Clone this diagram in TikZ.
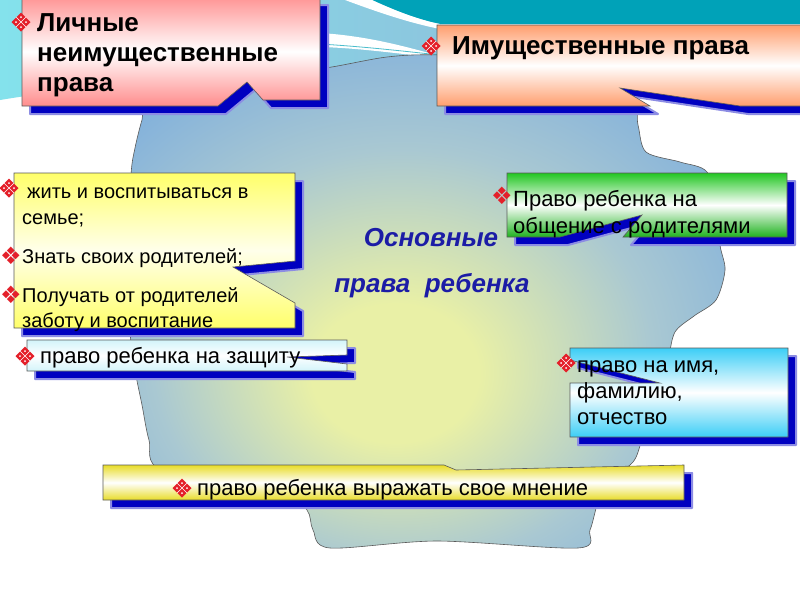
\documentclass[tikz,border=0pt]{standalone}
\usepackage{fontspec}
\setmainfont{Liberation Sans}
\newfontfamily\symfont{DejaVu Sans}
\definecolor{blobA}{HTML}{E9F0A6}
\definecolor{blobM}{HTML}{A9C8D2}
\definecolor{blobB}{HTML}{70A6E0}
\definecolor{cyanL}{HTML}{84E2EC}
\definecolor{cyanR}{HTML}{8CC6DE}
\definecolor{tealT}{HTML}{00A2B8}
\definecolor{shadowc}{HTML}{0000C0}
\definecolor{edgec}{HTML}{5A5A5A}
\definecolor{ornred}{HTML}{E4202A}
\definecolor{pinkA}{HTML}{FF9494}
\definecolor{orgA}{HTML}{FF9E6E}
\definecolor{yelA}{HTML}{FFFF6A}
\definecolor{grnA}{HTML}{22C622}
\definecolor{cyaA}{HTML}{3CCEF6}
\definecolor{lcyA}{HTML}{D2F4FA}
\definecolor{wyeA}{HTML}{E8DC28}
\definecolor{titleblue}{HTML}{1C1CA6}
\pgfdeclareradialshading{blobshade}{\pgfpoint{-3bp}{-8bp}}{color(0bp)=(blobA); color(7bp)=(blobA); color(21bp)=(blobM); color(38bp)=(blobB); color(70bp)=(blobB)}
\tikzset{
  shadowbox/.style={fill=shadowc, draw=shadowc!45, line width=2pt, line join=round},
  boxedge/.style={draw=edgec, line width=0.6pt},
  hdr/.style={font=\bfseries\fontsize{26}{30}\selectfont, anchor=base west, inner sep=0pt, text=black},
  txt/.style={font=\fontsize{20}{24}\selectfont, anchor=base west, inner sep=0pt, text=black},
  txtb/.style={font=\fontsize{22}{26}\selectfont, anchor=base west, inner sep=0pt, text=black},
  ttl/.style={font=\bfseries\itshape\fontsize{26}{30}\selectfont, anchor=base, inner sep=0pt, text=titleblue},
  qbul/.style={font=\symfont\fontsize{24}{24}\selectfont, text=ornred, inner sep=0pt},
  orn/.pic={
    \fill[ornred] (0,-9.5) -- (9.5,0) -- (0,9.5) -- (-9.5,0) -- cycle;
    \draw[white, line width=0.6pt] (-4.75,-4.75) -- (4.75,4.75) (-4.75,4.75) -- (4.75,-4.75);
    \fill[white] (0,-5) circle (1) (0,5) circle (1) (-5,0) circle (1) (5,0) circle (1);
  }
}
\def\pLich{(22,-3) -- (320,-3) -- (320,100) -- (263,100) -- (247,82) -- (218,106) -- (22,106) -- cycle}
\def\pImu{(437,25) -- (812,25) -- (812,106) -- (740,106) -- (620,88) -- (650,106) -- (437,106) -- cycle}
\def\pYel{(14,173) -- (295,173) -- (295,261) -- (233,267) -- (295,303) -- (295,328) -- (14,328) -- cycle}
\def\pPro{(27,340) -- (347,340) -- (347,355) -- (287,357) -- (347,364) -- (347,371) -- (27,371) -- cycle}
\def\pGrn{(507,173) -- (787,173) -- (787,237) -- (623,237) -- (642,215) -- (560,237) -- (507,237) -- cycle}
\def\pNam{(570,348) -- (788,348) -- (788,437) -- (570,437) -- (570,383) -- (660,383) -- (570,360) -- cycle}
\def\pWid{(103,465) -- (444,465) -- (456,470) -- (684,465) -- (684,500) -- (103,500) -- cycle}
\begin{document}
\begin{tikzpicture}[x=1pt,y=-1pt]
\useasboundingbox (0,0) rectangle (800,600);
% background
\fill[white] (0,0) rectangle (800,600);
\shade[left color=cyanL, right color=cyanR] (0,0) -- (440,0) -- (440,75) -- (300,75) .. controls (150,80) and (60,90) .. (0,100) -- cycle;
\fill[tealT] (372,0) .. controls (398,12) and (420,20) .. (440,24) -- (800,24) -- (800,0) -- cycle;
\fill[white] (345,0) .. controls (380,13) and (410,23) .. (440,29) -- (440,24) .. controls (420,20) and (398,12) .. (372,0) -- cycle;
\fill[white] (0,118) .. controls (120,70) and (240,36) .. (320,33) .. controls (370,36) and (410,48) .. (440,56) -- (440,58) .. controls (400,54) and (360,48) .. (320,47) .. controls (220,60) and (100,100) .. (0,132) -- cycle;
\draw[tealT!70, line width=0.8pt] (320,44) .. controls (370,47) and (410,52) .. (440,55);
% blob
\path[shading=blobshade, draw=edgec, line width=0.6pt]
  plot[smooth cycle, tension=0.5] coordinates {
  (150,100) (220,76) (280,70) (325,68) (387,57) (440,55) (560,62) (630,92)
  (638,125) (646,152) (680,162) (707,172) (718,210) (720,245) (725,270)
  (716,300) (694,316) (675,332) (668,360) (655,410) (642,440) (633,462)
  (605,485) (597,505) (590,530) (578,548) (437,541) (330,548) (313,530)
  (307,510) (280,490) (162,470) (149,440) (142,405) (135,370) (130,330)
  (129,250) (131,175) (135,148) (142,120)};
% centre title
\node[ttl] (osn) at (431,246) {Основные};
\node[ttl] (prr) at (432,292) {права\ \ ребенка};
% Личные неимущественные права
\fill[shadowbox, shift={(8,8)}] \pLich;
\shade[top color=pinkA, bottom color=pinkA!95!red, middle color=white] \pLich;
\draw[boxedge] \pLich;
\pic at (21,22) {orn};
\node[hdr] (lichA) at (37,31) {Личные};
\node[hdr] (lichB) at (37,61) {неимущественные};
\node[hdr] (lichC) at (37,91) {права};
% Имущественные права
\fill[shadowbox, shift={(8,8)}] \pImu;
\shade[top color=orgA, bottom color=orgA, middle color=white] \pImu;
\draw[boxedge] \pImu;
\pic at (431,46) {orn};
\node[hdr] (imu) at (452,54) {Имущественные права};
% yellow list
\fill[shadowbox, shift={(8,8)}] \pYel;
\shade[top color=yelA, bottom color=yelA, middle color=white!92!yellow] \pYel;
\draw[boxedge] \pYel;
\pic at (9,188) {orn};
\node[txt] (y1) at (27,198) {жить и воспитываться в};
\node[txt] (y2) at (22,224) {семье;};
\node[qbul] (q1) at (11,256) {❖};
\node[txt] (y3) at (22,263) {Знать своих родителей;};
\node[qbul] (q2) at (11,295) {❖};
\node[txt] (y4) at (22,302) {Получать от родителей};
\node[txt] (y5) at (22,327) {заботу и воспитание};
% protection
\fill[shadowbox, shift={(8,8)}] \pPro;
\shade[top color=lcyA, bottom color=lcyA, middle color=white] \pPro;
\draw[boxedge] \pPro;
\pic at (25,356) {orn};
\node[txtb] (pro) at (40,363) {право ребенка на защиту};
% green
\fill[shadowbox, shift={(8,8)}] \pGrn;
\shade[top color=grnA, bottom color=grnA!90!black, middle color=white] \pGrn;
\draw[boxedge] \pGrn;
\node[qbul] (q3) at (502,196) {❖};
\node[txtb] (g1) at (513,206) {Право ребенка на};
\node[txtb] (g2) at (513,233) {общение с родителями};
% name
\fill[shadowbox, shift={(8,8)}] \pNam;
\shade[top color=cyaA, bottom color=cyaA, middle color=white] \pNam;
\draw[boxedge] \pNam;
\pic at (566,363) {orn};
\node[txtb] (n1) at (577,372) {право на имя,};
\node[txtb] (n2) at (577,398) {фамилию,};
\node[txtb] (n3) at (577,424) {отчество};
% wide
\fill[shadowbox, shift={(8,8)}] \pWid;
\shade[top color=wyeA, bottom color=wyeA, middle color=white] \pWid;
\draw[boxedge] \pWid;
\pic at (182,488) {orn};
\node[txtb] (wid) at (197,495) {право ребенка выражать свое мнение};
\end{tikzpicture}
\end{document}
